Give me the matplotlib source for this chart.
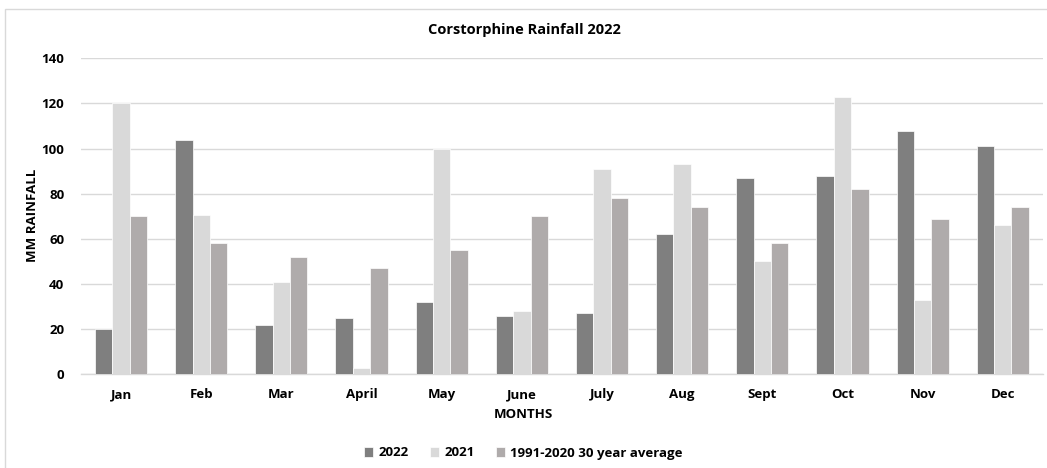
import matplotlib
matplotlib.use("Agg")
import matplotlib.pyplot as plt
import numpy as np

months = ["Jan", "Feb", "Mar", "April", "May", "June", "July", "Aug", "Sept", "Oct", "Nov", "Dec"]
rain_2022 = [20, 104, 22, 25, 32, 26, 27, 62, 87, 88, 108, 101]
rain_2021 = [120, 70.7, 41, 3, 100, 28, 91, 93, 50, 123, 33, 66]
avg_1991_2020 = [70, 58, 52, 47, 55, 70, 78, 74, 58, 82, 69, 74]
series_names = ["2022", "2021", "1991-2020 30 year average"]
colors = ["#7f7f7f", "#d9d9d9", "#afabab"]

plt.rcParams['font.family'] = ['Open Sans', 'DejaVu Sans']

fig = plt.figure(figsize=(10.47, 4.68), dpi=100)
ax = fig.add_axes([0.0774, 0.2002, 0.9186, 0.6752])

# chart border
border = plt.Rectangle((5 / 1047, -0.1), 1.2, 1 - 9 / 468 + 0.1, transform=fig.transFigure,
                       fill=False, edgecolor="#d9d9d9", linewidth=1, zorder=0)
fig.patches.append(border)

x = np.arange(len(months))
w = 0.217
for i, (vals, name, c) in enumerate(zip([rain_2022, rain_2021, avg_1991_2020], series_names, colors)):
    ax.bar(x + (i - 1) * w, vals, width=w, color=c, label=name, edgecolor="white", linewidth=0.5, zorder=3)

ax.set_xlim(-0.5, len(months) - 0.5)
ax.set_ylim(0, 140)
ax.set_yticks(range(0, 141, 20))
ax.set_xticks(x)
ax.set_xticklabels(months)
ax.tick_params(axis='both', length=0, labelsize=9.5, colors="#000000")
ax.tick_params(axis='y', pad=12)
ax.tick_params(axis='x', pad=10)
for lbl in ax.get_xticklabels() + ax.get_yticklabels():
    lbl.set_fontweight("bold")
ax.yaxis.grid(True, color="#d9d9d9", linewidth=1, zorder=0)
ax.set_axisbelow(True)
for s in ["top", "right", "left"]:
    ax.spines[s].set_visible(False)
ax.spines["bottom"].set_color("#d9d9d9")
ax.spines["bottom"].set_linewidth(1)

fig.text(0.5012, 1 - 30 / 468, "Corstorphine Rainfall 2022", ha="center", va="center",
         fontsize=10.5, fontweight="bold")
fig.text(32 / 1047, 1 - 215 / 468, "MM RAINFALL", ha="center", va="center", rotation=90,
         fontsize=9.5, fontweight="bold")
fig.text(0.5, 1 - 414 / 468, "MONTHS", ha="center", va="center", fontsize=9.5, fontweight="bold")

leg = fig.legend(loc="center", bbox_to_anchor=(0.5, 1 - 453 / 468), ncol=3, frameon=False,
                 handlelength=0.7, handleheight=0.7, handletextpad=0.4, columnspacing=1.6,
                 prop={"size": 9.5, "weight": "bold"})

fig.savefig("out.png", dpi=100, facecolor="white")
